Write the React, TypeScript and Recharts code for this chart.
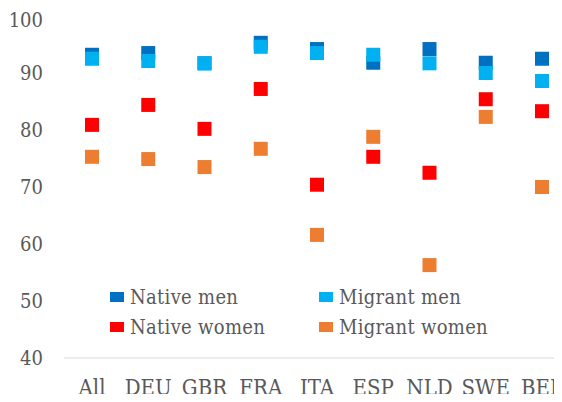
import { ComposedChart, Legend, Scatter, XAxis, YAxis } from 'recharts'

const countries = ['All', 'DEU', 'GBR', 'FRA', 'ITA', 'ESP', 'NLD', 'SWE', 'BEL']
const nativeMen = [93.2, 93.5, 91.7, 95.3, 94.2, 91.8, 94.2, 91.8, 92.5]
const migrantMen = [92.5, 92.1, 91.7, 94.6, 93.5, 93.2, 91.7, 90.0, 88.6]
const nativeWomen = [80.9, 84.4, 80.2, 87.2, 70.4, 75.3, 72.5, 85.4, 83.3]
const migrantWomen = [75.3, 74.9, 73.5, 76.7, 61.6, 78.8, 56.3, 82.3, 70.0]
const yTicks = [40, 50, 60, 70, 80, 90, 100]

const seriesList = [
  { key: 'nativeMen', label: 'Native men', color: '#0070C0' },
  { key: 'migrantMen', label: 'Migrant men', color: '#00B0F0' },
  { key: 'nativeWomen', label: 'Native women', color: '#FF0000' },
  { key: 'migrantWomen', label: 'Migrant women', color: '#ED7D31' },
]

const data = countries.map((name, i) => ({
  name,
  nativeMen: nativeMen[i],
  migrantMen: migrantMen[i],
  nativeWomen: nativeWomen[i],
  migrantWomen: migrantWomen[i],
}))

const FONT = "'DejaVu Serif Condensed', 'DejaVu Serif', serif"
const TEXT = '#595959'

function squareShape(color: string) {
  return (props: any) => (
    <rect x={props.cx - 7} y={props.cy - 7} width={14} height={14} fill={color} />
  )
}

function LegendBox() {
  return (
    <div
      style={{
        display: 'grid',
        gridTemplateColumns: '209px 200px',
        fontFamily: FONT,
        fontStretch: 'condensed',
        fontSize: 20,
        letterSpacing: 0.3,
        color: TEXT,
      }}
    >
      {seriesList.map((s) => (
        <div key={s.key} style={{ display: 'flex', alignItems: 'center', height: 30 }}>
          <span style={{ width: 14, height: 10, background: s.color, marginRight: 6 }} />
          <span>{s.label}</span>
        </div>
      ))}
    </div>
  )
}

export default function App() {
  return (
    <div style={{ margin: -8, width: 562, height: 402, overflow: 'hidden' }}>
      <div style={{ paddingLeft: 8, paddingTop: 8 }}>
        <ComposedChart
          width={562}
          height={394}
          data={data}
          margin={{ top: 8, right: 0, left: 0, bottom: 0 }}
        >
          <XAxis
            dataKey="name"
            height={44}
            padding={{ left: 28, right: 28 }}
            tick={{ fill: TEXT, fontSize: 22, fontFamily: FONT, fontStretch: 'condensed' }}
            axisLine={{ stroke: '#d9d9d9' }}
            tickLine={false}
            tickSize={0}
            tickMargin={21}
            interval={0}
          />
          <YAxis
            domain={[40, 100]}
            ticks={yTicks}
            width={56}
            tick={{ fill: TEXT, fontSize: 20, fontFamily: FONT, fontStretch: 'condensed' }}
            axisLine={false}
            tickLine={false}
            tickSize={0}
            tickMargin={21}
          />
          <Legend
            layout="vertical"
            verticalAlign="middle"
            align="center"
            content={<LegendBox />}
            wrapperStyle={{ position: 'absolute', left: 102, top: 274, width: 420 }}
          />
          {seriesList.map((s) => (
            <Scatter
              key={s.key}
              dataKey={s.key}
              name={s.label}
              fill={s.color}
              shape={squareShape(s.color)}
              isAnimationActive={false}
            />
          ))}
        </ComposedChart>
      </div>
    </div>
  )
}
